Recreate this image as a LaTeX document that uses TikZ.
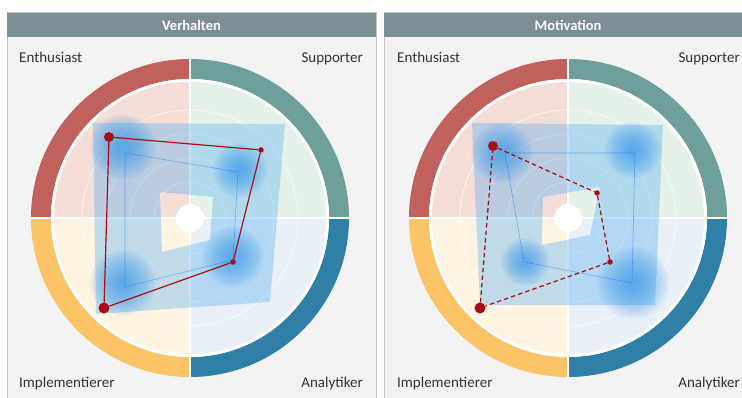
\documentclass[tikz,border=0pt]{standalone}
\usepackage{fontspec}
\setmainfont{Carlito}
\definecolor{panelbg}{HTML}{F3F3F3}
\definecolor{panelline}{HTML}{C6C6C6}
\definecolor{kopfgrau}{HTML}{7D8E95}
\definecolor{ringE}{HTML}{C0615B}
\definecolor{ringS}{HTML}{6E9F9A}
\definecolor{ringI}{HTML}{FBC466}
\definecolor{ringA}{HTML}{2F7FA7}
\definecolor{feldE}{HTML}{F5DDD8}
\definecolor{feldS}{HTML}{E5F2EA}
\definecolor{feldI}{HTML}{FEF4E2}
\definecolor{feldA}{HTML}{EAF0F7}
\definecolor{bandblau}{HTML}{4FAEF2}
\definecolor{fleckblau}{HTML}{3A9BEB}
\definecolor{profilrot}{HTML}{A80D12}
\tikzset{
  panel/.style = {fill=panelbg, draw=panelline, line width=1pt},
  kopf/.style = {fill=kopfgrau},
  titel/.style = {text=white, font=\fontsize{14.5}{17}\selectfont\bfseries},
  lab/.style = {text=black!80, inner sep=0pt, font=\fontsize{15}{18}\selectfont},
  kreis/.style = {draw=white, opacity=0.7, line width=0.8pt},
  band/.style = {fill=bandblau, fill opacity=0.35, even odd rule},
  fleckstil/.style = {fill=fleckblau, opacity=0.05},
  mitte/.style = {draw=blue!60!cyan, opacity=0.4, line width=0.6pt},
  profil/.style = {draw=profilrot, line width=1.2pt},
  punkt/.style = {circle, fill=profilrot, inner sep=0pt, minimum size=5.5pt},% kleiner Punkt
  grosspunkt/.style = {punkt, minimum size=11pt}% grosser Punkt
}
\begin{document}
\begin{tikzpicture}[x=1pt, y=1pt]
\useasboundingbox (0,0) rectangle (742,398);
\fill[white] (0,0) rectangle (742,398);
% Rahmen und Kopfzeilen
\draw[panel] (7,-5) rectangle (376,385);
\draw[panel] (384,-5) rectangle (752,385);
\fill[kopf] (7,361) rectangle (376,385);
\fill[kopf] (384,361) rectangle (752,385);
\node[titel] (tV) at (191.5,373) {Verhalten};
\node[titel] (tM) at (568,373) {Motivation};
% Beschriftungen
\node[lab, anchor=base west] (lE) at (19,335) {Enthusiast};
\node[lab, anchor=base east] (lS) at (363,335) {Supporter};
\node[lab, anchor=base west] (lI) at (19,10) {Implementierer};
\node[lab, anchor=base east] (lA) at (363,10) {Analytiker};
\node[lab, anchor=base west] (rE) at (397,335) {Enthusiast};
\node[lab, anchor=base east] (rS) at (740,335) {Supporter};
\node[lab, anchor=base west] (rI) at (397,10) {Implementierer};
\node[lab, anchor=base east] (rA) at (740,10) {Analytiker};
% Ringe und Felder
\foreach \cx in {190,568}{
  \begin{scope}[shift={(\cx,180)}]
    \foreach \w/\f in {90/E,0/S,180/I,270/A}{
      \fill[ring\f] (\w:159) arc (\w:\w+90:159) -- (\w+90:139) arc (\w+90:\w:139) -- cycle;
    }
    \fill[white] (0,0) circle (139);
    \foreach \w/\f in {90/E,0/S,180/I,270/A}{
      \fill[feld\f] (0,0) -- (\w:136) arc (\w:\w+90:136) -- cycle;
    }
    \foreach \r in {36,60,84,108} \draw[kreis] (0,0) circle (\r);
    \draw[white, line width=2.2pt] (-159,0) -- (159,0) (0,-159) -- (0,159);
    \fill[white] (0,0) circle (14);
  \end{scope}
}
% Verhalten
\begin{scope}[shift={(190,180)}]
  \fill[band] (-97,95) -- (95,94) -- (80,-84) -- (-94,-96) -- cycle
              (-30,26) -- (23,21) -- (20,-22) -- (-28,-34) -- cycle;
  \foreach \x/\y/\r in {-67/71/30, 50/48/25, -67/-65/30, 43/-39/28}
    \foreach \k in {1,...,20}
      \fill[fleckstil] (\x,\y) circle ({\r*(0.1+0.05*\k)});
  \draw[mitte] (-65,65) -- (48,46) -- (43,-42) -- (-65,-69) -- cycle;
  \node[grosspunkt, minimum size=10pt] (vE) at (-81,81) {};
  \node[punkt] (vS) at (71,68) {};
  \node[punkt] (vA) at (43,-44) {};
  \node[grosspunkt] (vI) at (-86,-90) {};
  \draw[profil] (vE) -- (vS) -- (vA) -- (vI) -- (vE);
\end{scope}
% Motivation
\begin{scope}[shift={(568,180)}]
  \fill[band] (-96,95) -- (95,93) -- (87,-87) -- (-88,-87) -- cycle
              (-25,21) -- (32,31) -- (22,-17) -- (-26,-27) -- cycle;
  \foreach \x/\y/\r in {-66/65/28, 65/68/26, -43/-44/22, 65/-65/33}
    \foreach \k in {1,...,20}
      \fill[fleckstil] (\x,\y) circle ({\r*(0.1+0.05*\k)});
  \draw[mitte] (-63,65) -- (67,65) -- (64,-65) -- (-44,-44) -- cycle;
  \node[grosspunkt, minimum size=10pt] (mE) at (-75,72) {};
  \node[punkt] (mS) at (29,25) {};
  \node[punkt] (mA) at (42,-44) {};
  \node[grosspunkt] (mI) at (-88,-90) {};
  \draw[profil, dash pattern=on 4.5pt off 3pt] (mE) -- (mS) -- (mA) -- (mI) -- (mE);
\end{scope}
\end{tikzpicture}
\end{document}
